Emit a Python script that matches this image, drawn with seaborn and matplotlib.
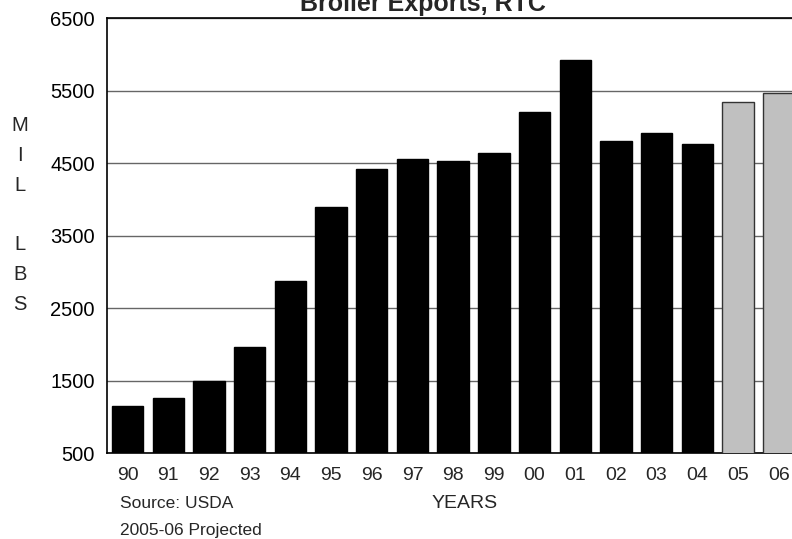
import numpy as np
import pandas as pd
from matplotlib import pyplot as plt
import seaborn as sns

years = ['90', '91', '92', '93', '94', '95', '96', '97', '98',
         '99', '00', '01', '02', '03', '04', '05', '06']
exports = [1153, 1259, 1498, 1971, 2877, 3898, 4422, 4564, 4528,
           4642, 5208, 5929, 4812, 4922, 4771, 5350, 5470]
projected = [False] * 15 + [True] * 2

df = pd.DataFrame({'year': years, 'exports': exports, 'projected': projected})

sns.set_theme(style='white')
plt.rcParams['font.family'] = ['Liberation Sans', 'DejaVu Sans']

fig = plt.figure(figsize=(7.92, 5.39), dpi=100)
ax = fig.add_axes([107.3 / 792, 1 - 453.3 / 539, (799 - 107.3) / 792, (453.3 - 18.3) / 539])

colors = ['#c0c0c0' if p else 'black' for p in projected]
sns.barplot(data=df, x='year', y='exports', hue='year', palette=colors,
            legend=False, width=0.77, saturation=1, ax=ax, zorder=3)
for patch, p in zip(ax.patches, projected):
    patch.set_edgecolor('#333333' if p else 'black')
    patch.set_linewidth(1)

ax.set_ylim(500, 6500)
ax.set_xlim(-0.5, len(years) - 0.5)
ax.set_yticks(range(500, 6501, 1000))
ax.yaxis.grid(True, color='#666666', linewidth=1, zorder=0)
ax.set_axisbelow(True)
ax.tick_params(axis='y', direction='out', length=3, width=1, labelsize=14.5, pad=6, colors='black')
ax.set_xticks(range(len(years)))
ax.set_xticklabels(years)
ax.set_xticks(np.arange(-0.5, len(years), 1), minor=True)
ax.tick_params(axis='x', which='major', length=0, labelsize=14, pad=10)
ax.tick_params(axis='x', which='minor', direction='inout', length=7, width=1, color='black')
ax.set_xlabel('')
ax.set_ylabel('')
for s in ['left', 'bottom', 'top']:
    ax.spines[s].set_color('black')
    ax.spines[s].set_linewidth(1.2)
ax.spines['right'].set_visible(False)

fig.text(423 / 792, 1 - 11 / 539, 'Broiler Exports, RTC', ha='center', va='baseline',
         fontsize=18, fontweight='bold')
fig.text(465 / 792, 1 - 503 / 539, 'YEARS', ha='center', va='center', fontsize=14)
fig.text(20 / 792, 1 - 215 / 539, 'M\nI\nL\n\nL\nB\nS', ha='center', va='center',
         fontsize=14.5, linespacing=1.72)
fig.text(120 / 792, 1 - 504 / 539, 'Source: USDA', ha='left', va='center', fontsize=12.5)
fig.text(120 / 792, 1 - 531 / 539, '2005-06 Projected', ha='left', va='center', fontsize=12.5)

fig.savefig('out.png', dpi=100)
